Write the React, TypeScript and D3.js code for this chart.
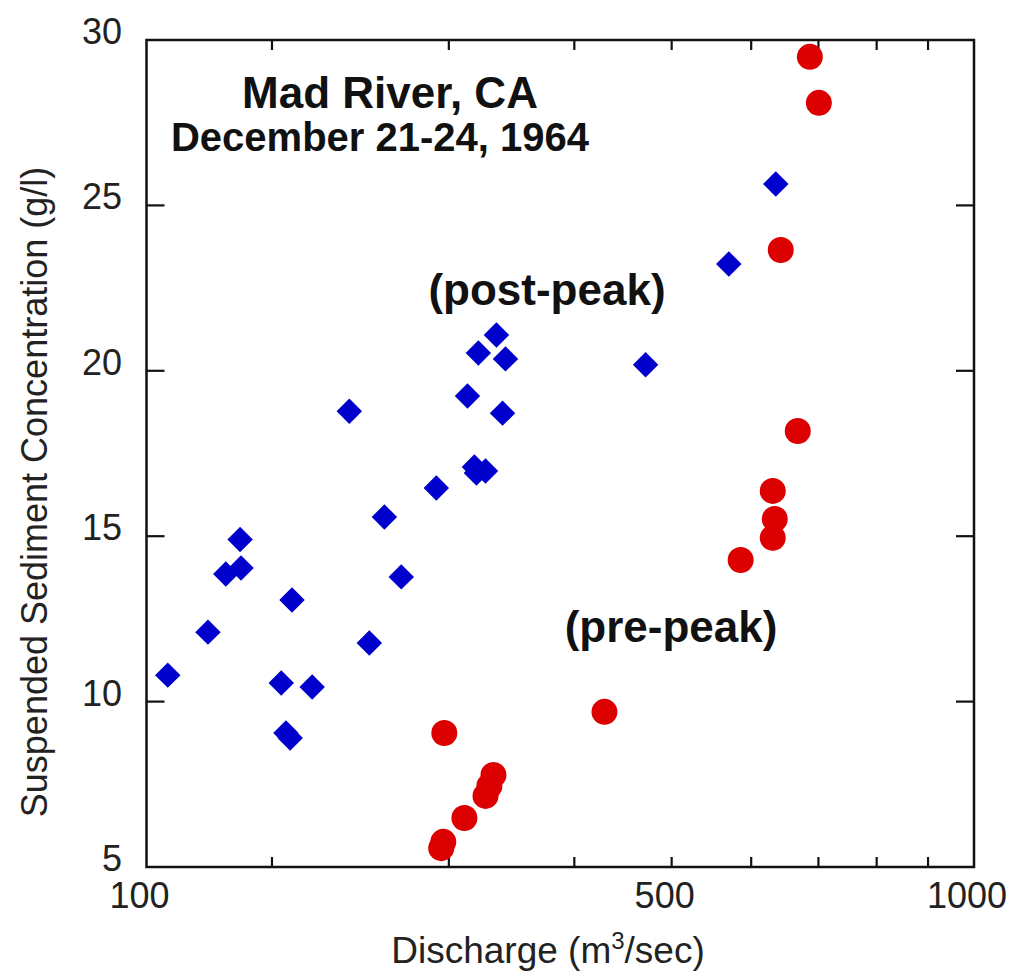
import React from "react";
import * as d3 from "d3";

// Post-peak (blue diamonds): discharge (m3/s), concentration (g/l)
const postQ = [157.5, 172.7, 179.9, 186.3, 185.9, 204.3, 206.5, 208.5, 209.4, 219.3, 238.8, 250.0, 258.8, 269.0, 291.5, 313.1, 318.1, 319.6, 326.3, 321.0, 334.6, 341.6, 339.3, 471.0, 570.0, 634.8];
const postC = [10.8, 12.1, 13.86, 14.04, 14.9, 10.56, 9.05, 8.9, 13.07, 10.44, 18.78, 11.77, 15.58, 13.77, 16.46, 19.24, 17.09, 16.91, 16.97, 20.54, 21.08, 20.36, 18.72, 20.18, 23.23, 25.65];

// Pre-peak (red circles)
const preQ = [686.4, 700.7, 642.1, 667.6, 630.4, 633.3, 630.4, 585.7, 428.6, 296.9, 332.3, 329.2, 326.3, 310.9, 296.2, 294.8];
const preC = [29.49, 28.1, 23.65, 18.18, 16.37, 15.52, 14.95, 14.28, 9.69, 9.05, 7.78, 7.45, 7.15, 6.48, 5.76, 5.57];

const xDomain = [150, 1000];
const yDomain = [5, 30];
const xMinorTicks = [200, 300, 400, 500, 600, 700, 800, 900];
const xLabelValues = [150, 500, 1000];
const xLabelTexts = ["100", "500", "1000"];
const yMinorTicks = [10, 15, 20, 25];
const yLabelValues = [5, 10, 15, 20, 25, 30];

const FONT = "'Liberation Sans', Arial, Helvetica, sans-serif";

export default function App() {
  const W = 1013, H = 977;
  const L = 146.5, R = 974, T = 40, B = 867;
  const x = d3.scaleLog().domain(xDomain).range([L, R]);
  const y = d3.scaleLinear().domain(yDomain).range([B, T]);
  const diamond = d3.symbol().type(d3.symbolSquare).size(18 * 18)() as string;

  return (
    <svg width={W} height={H} style={{ position: "absolute", left: 0, top: 0, background: "#fff" }}>
      <rect x={0} y={0} width={W} height={H} fill="#fff" />
      {/* frame */}
      <rect x={L} y={T} width={R - L} height={B - T} fill="none" stroke="#111" strokeWidth={2.5} />
      {/* x ticks bottom & top */}
      {xMinorTicks.map((v) => (
        <g key={"xt" + v}>
          <line x1={x(v)} x2={x(v)} y1={B} y2={B - 10} stroke="#111" strokeWidth={2.2} />
          <line x1={x(v)} x2={x(v)} y1={T} y2={T + 10} stroke="#111" strokeWidth={2.2} />
        </g>
      ))}
      {/* y ticks left & right */}
      {yMinorTicks.map((v) => (
        <g key={"yt" + v}>
          <line x1={L} x2={L + 18} y1={y(v)} y2={y(v)} stroke="#111" strokeWidth={2.2} />
          <line x1={R} x2={R - 18} y1={y(v)} y2={y(v)} stroke="#111" strokeWidth={2.2} />
        </g>
      ))}
      {/* x labels */}
      {xLabelValues.map((v, i) => (
        <text key={"xl" + v} x={x(v) - 7} y={908} textAnchor="middle" fontFamily={FONT} fontSize={36} fill="#222">
          {xLabelTexts[i]}
        </text>
      ))}
      {/* y labels */}
      {yLabelValues.map((v) => (
        <text key={"yl" + v} x={122} y={y(v) + 4} textAnchor="end" fontFamily={FONT} fontSize={36} fill="#222">
          {v}
        </text>
      ))}
      {/* axis titles */}
      <text x={548} y={963} textAnchor="middle" fontFamily={FONT} fontSize={37} fill="#222">
        Discharge (m
        <tspan dy={-14} fontSize={24}>3</tspan>
        <tspan dy={14}>/sec)</tspan>
      </text>
      <text transform="translate(47,492) rotate(-90)" textAnchor="middle" fontFamily={FONT} fontSize={36} fill="#222">
        Suspended Sediment Concentration (g/l)
      </text>
      {/* title */}
      <text x={390} y={108} textAnchor="middle" fontFamily={FONT} fontWeight="bold" fontSize={44} fill="#111">
        Mad River, CA
      </text>
      <text x={380} y={151} textAnchor="middle" fontFamily={FONT} fontWeight="bold" fontSize={40} fill="#111">
        December 21-24, 1964
      </text>
      <text x={547} y={305} textAnchor="middle" fontFamily={FONT} fontWeight="bold" fontSize={44} fill="#111">
        (post-peak)
      </text>
      <text x={671} y={642} textAnchor="middle" fontFamily={FONT} fontWeight="bold" fontSize={44} fill="#111">
        (pre-peak)
      </text>
      {/* data */}
      {postQ.map((q, i) => (
        <path key={"p" + i} d={diamond} transform={`translate(${x(q)},${y(postC[i])}) rotate(45)`} fill="#0000cc" />
      ))}
      {preQ.map((q, i) => (
        <circle key={"r" + i} cx={x(q)} cy={y(preC[i])} r={13} fill="#dd0000" />
      ))}
    </svg>
  );
}
